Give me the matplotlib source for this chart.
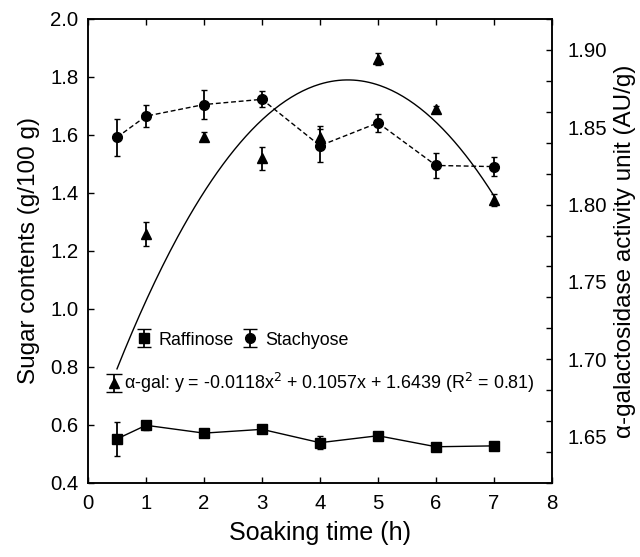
import numpy as np
import matplotlib
matplotlib.use("Agg")
import matplotlib.pyplot as plt
from matplotlib.ticker import FixedLocator, MultipleLocator

plt.rcParams["font.family"] = ["Liberation Sans", "DejaVu Sans"]

# soaking time (h)
hours = [0.5, 1, 2, 3, 4, 5, 6, 7]

# sugar contents (g/100 g)
raffinose = [0.552, 0.599, 0.572, 0.585, 0.539, 0.563, 0.525, 0.528]
raffinose_err = [0.060, 0.015, 0.008, 0.010, 0.022, 0.008, 0.005, 0.005]
stachyose = [1.592, 1.665, 1.705, 1.723, 1.563, 1.642, 1.495, 1.491]
stachyose_err = [0.064, 0.038, 0.049, 0.028, 0.057, 0.031, 0.042, 0.034]

# alpha-galactosidase activity (AU/g)
gal_hours = [1, 2, 3, 4, 5, 6, 7]
gal_activity = [1.781, 1.844, 1.830, 1.844, 1.894, 1.862, 1.803]
gal_err = [0.008, 0.003, 0.0075, 0.007, 0.004, 0.002, 0.004]

# quadratic fit reported in the legend
fit_coef = [-0.0118, 0.1057, 1.6439]

fig = plt.figure(figsize=(6.4, 5.57), dpi=100)
ax = fig.add_axes([88 / 640, 1 - 483 / 557, 464 / 640, 464 / 557])
ax2 = ax.twinx()

ax.errorbar(hours, raffinose, yerr=raffinose_err, color="black", marker="s",
            ms=6.5, lw=1.0, elinewidth=1.3, capsize=2.2, capthick=1.0, zorder=4)
ax.errorbar(hours, stachyose, yerr=stachyose_err, color="black", marker="o",
            ms=7, lw=1.0, ls=(0, (3.5, 2)), elinewidth=1.3, capsize=2.2,
            capthick=1.0, zorder=4)

ax2.errorbar(gal_hours, gal_activity, yerr=gal_err, color="black", marker="^",
             ms=7, ls="none", elinewidth=1.3, capsize=2.2, capthick=1.0)
xs = np.linspace(0.5, 7, 200)
ax2.plot(xs, np.polyval(fit_coef, xs), color="black", lw=1.0)

ax.set_xlim(0, 8)
ax.set_ylim(0.4, 2.0)
ax2.set_ylim(1.62, 1.92)
ax.xaxis.set_major_locator(MultipleLocator(1))
ax.yaxis.set_major_locator(MultipleLocator(0.2))
ax.yaxis.set_major_formatter(matplotlib.ticker.FormatStrFormatter("%.1f"))

ax2.yaxis.set_major_locator(FixedLocator([1.65, 1.70, 1.75, 1.80, 1.85, 1.90]))
ax2.yaxis.set_major_formatter(matplotlib.ticker.FormatStrFormatter("%.2f"))
ax2.yaxis.set_minor_locator(MultipleLocator(0.02))
ax2.yaxis.remove_overlapping_locs = False

ax.tick_params(axis="both", which="major", direction="in", length=4,
               width=1.0, labelsize=14.7, top=True, pad=7)
ax.tick_params(axis="x", pad=8)
ax2.tick_params(axis="y", which="major", length=0, labelsize=14.7, pad=11)
ax2.tick_params(axis="y", which="minor", direction="in", length=4, width=1.0)

for a in (ax, ax2):
    for s in a.spines.values():
        s.set_linewidth(1.1)

ax.set_xlabel("Soaking time (h)", fontsize=18, labelpad=6)
ax.set_ylabel("Sugar contents (g/100 g)", fontsize=17.5, labelpad=7)
ax2.set_ylabel("α-galactosidase activity unit (AU/g)", fontsize=17.5,
               labelpad=5)

# legend proxies with wider caps, no connecting line
h_raf = ax.errorbar([np.nan], [np.nan], yerr=[np.nan], color="black", marker="s",
                    ms=6.5, ls="none", elinewidth=1.3, capsize=5)
h_sta = ax.errorbar([np.nan], [np.nan], yerr=[np.nan], color="black", marker="o",
                    ms=7, ls="none", elinewidth=1.3, capsize=5)
h_gal = ax.errorbar([np.nan], [np.nan], yerr=[np.nan], color="black", marker="^",
                    ms=7, ls="none", elinewidth=1.3, capsize=5.5)

leg1 = ax.legend([h_raf, h_sta], ["Raffinose", "Stachyose"], ncol=2,
                 loc="center left", bbox_to_anchor=(0.1056, 0.308),
                 frameon=False, fontsize=12.9, handlelength=0.8,
                 handletextpad=0.42, columnspacing=0.5, borderpad=0,
                 borderaxespad=0)
ax.add_artist(leg1)
ax.legend([h_gal], ["α-gal: y = -0.0118x$^2$ + 0.1057x + 1.6439 (R$^2$ = 0.81)"],
          loc="center left", bbox_to_anchor=(0.041, 0.2155), frameon=False,
          fontsize=12.9, handlelength=0.8, handletextpad=0.15, borderpad=0,
          borderaxespad=0)

fig.savefig("out.png", dpi=100)
